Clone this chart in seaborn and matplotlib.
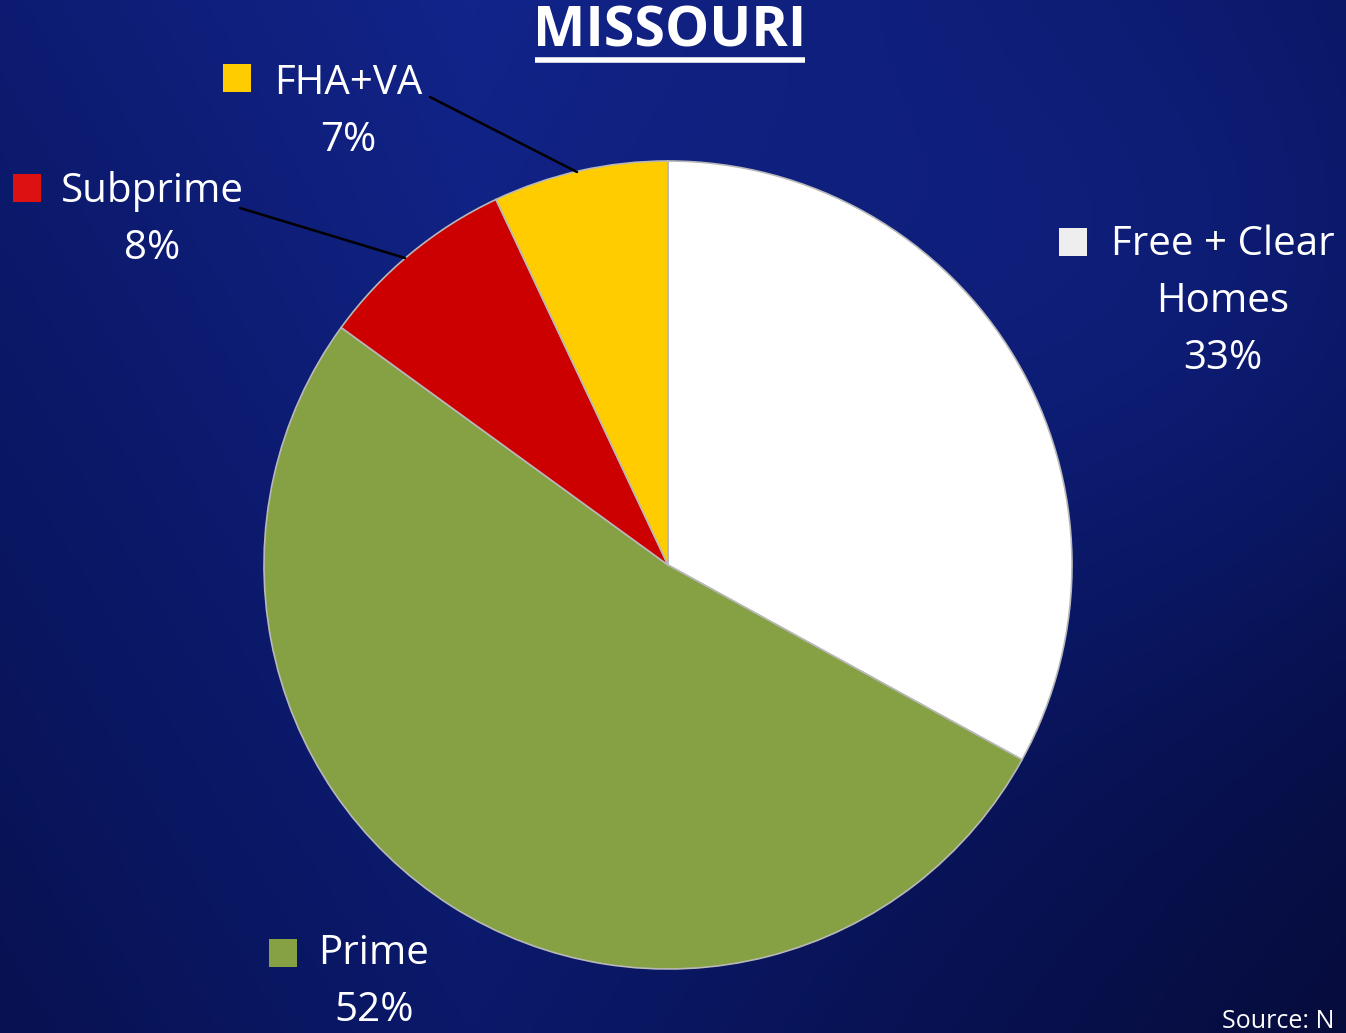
import numpy as np
import matplotlib
matplotlib.use("Agg")
import matplotlib.pyplot as plt
import seaborn as sns
from matplotlib.colors import LinearSegmentedColormap

# data
categories = ["Free + Clear\nHomes", "Prime", "Subprime", "FHA+VA"]
shares = [33, 52, 8, 7]
colors = ["#ffffff", "#86a044", "#cc0000", "#ffcc00"]
marker_colors = ["#eeeeee", "#86a044", "#dd1111", "#ffcc00"]

sns.set_theme(style="white")
plt.rcParams["font.family"] = ["Open Sans", "DejaVu Sans"]

W, H = 1346, 1033
fig = plt.figure(figsize=(W / 100, H / 100), dpi=100)

# background: dark blue gradient
bg = fig.add_axes([0, 0, 1, 1])
yy, xx = np.mgrid[0:1:200j, 0:1:260j]
grad = 0.55 * (1 - np.abs(xx - 0.35)) + 0.25 * (1 - yy) + 0.2 * np.exp(-((xx - 0.9) ** 2 + (yy - 0.3) ** 2) * 8)
cmap = LinearSegmentedColormap.from_list("bgblue", ["#060c3c", "#0a1764", "#12248a"])
bg.imshow(grad, cmap=cmap, aspect="auto", extent=[0, 1, 0, 1])
bg.set_axis_off()

ax = fig.add_axes([0, 0, 1, 1])
ax.patch.set_alpha(0)

cx, cy, r = 668, H - 565, 404
wedges, _ = ax.pie(shares, colors=colors, startangle=90, counterclock=False,
                   center=(cx, cy), radius=r, frame=True,
                   wedgeprops=dict(edgecolor="#b8b8b8", linewidth=1.2))
ax.set_xlim(0, W)
ax.set_ylim(0, H)
ax.set_axis_off()

# label layout: (text center x, first line y, marker x, marker y)
label_pos = [
    (1223, 245, 1073, 242),
    (374, 954, 283, 953),
    (152, 192, 27, 188),
    (348, 84, 237, 78),
]
for cat, pct, mc, (tx, ty, mx, my) in zip(categories, shares, marker_colors, label_pos):
    lines = cat.split("\n") + [f"{pct}%"]
    for i, line in enumerate(lines):
        ax.text(tx, H - (ty + 57 * i), line, ha="center", va="center",
                fontsize=29, color="white")
    ax.scatter([mx], [H - my], marker="s", s=420, color=mc, edgecolors="none", zorder=5)

# leader lines
ax.plot([430, 577], [H - 97, H - 172], color="black", lw=1.8)
ax.plot([240, 405], [H - 208, H - 258], color="black", lw=1.8)

# title
t = ax.text(670, H - 32, "MISSOURI", ha="center", va="center",
            fontsize=40, fontweight="bold", color="white")
fig.canvas.draw()
bb = t.get_window_extent()
ax.plot([bb.x0 + 2, bb.x1 - 2], [H - 60, H - 60], color="white", lw=4, solid_capstyle="butt")

fig.text(1222 / W, 1 - 1022 / H, "Source: N", fontsize=18, color="white",
         ha="left", va="center")

fig.savefig("out.png", dpi=100, facecolor="#0a1764")
